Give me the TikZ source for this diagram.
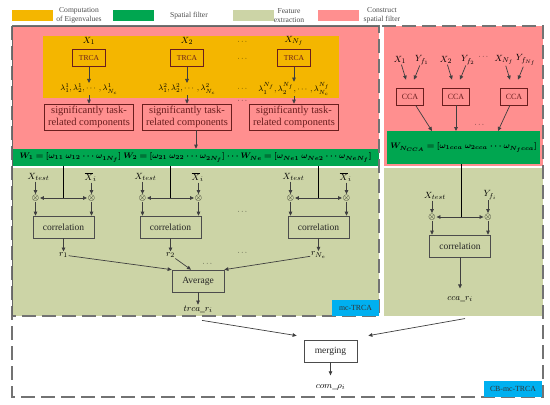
\documentclass[tikz,border=0pt]{standalone}
\usepackage{amsmath, amssymb}
\usepackage{bm}
\usepackage{fontspec}
\setmainfont{Liberation Serif}
\usetikzlibrary{arrows.meta, positioning, calc}
\definecolor{pkc}{HTML}{FF8F8F}
\definecolor{ylc}{HTML}{F4B600}
\definecolor{grc}{HTML}{00A650}
\definecolor{lgc}{HTML}{CCD4A6}
\definecolor{cyc}{HTML}{00B0F0}
\definecolor{mrc}{HTML}{6A1E1E}
\definecolor{arc}{HTML}{3F3F3F}

\begin{document}
\begin{tikzpicture}[x=1pt, y=-1pt, >={Triangle[length=4pt, width=3.6pt]},
    line width=0.7pt, font=\fontsize{9.5}{10.5}\selectfont,
    arr/.style={->, draw=arc},
    lbl/.style={inner sep=0.5pt},
    legtxt/.style={font=\fontsize{7.6}{8.6}\selectfont, text=black!70,
      align=center, inner sep=0pt},
    tbox/.style={draw=mrc, text=mrc, minimum width=33pt, minimum height=17pt,
      inner sep=0pt, font=\fontsize{7.6}{8}\selectfont},
    cbox/.style={tbox, minimum width=27pt, font=\fontsize{8}{8}\selectfont},
    pbox/.style={draw=mrc, text=mrc, minimum width=89pt, minimum height=26pt,
      inner sep=0pt, align=center, font=\fontsize{10.5}{11.5}\selectfont},
    gbox/.style={draw=black!70, text=black!85, minimum width=61pt,
      minimum height=22pt, inner sep=0pt},
    tag/.style={fill=cyc, text=black!80, inner sep=0pt,
      font=\fontsize{7.8}{8}\selectfont},
    dashbox/.style={draw=black!55, line width=1.1pt, dash pattern=on 14pt off 6pt}]
  \useasboundingbox (0,0) rectangle (550,405);

  % legend
  \foreach \c/\xa/\txt/\xt [count=\k] in {ylc/12/{Computation\\of Eigenvalues}/79,
      grc/113/{Spatial filter}/189, lgc/233/{Feature\\extraction}/289,
      pkc/318/{Construct\\spatial filter}/382}{
    \fill[\c] (\xa,10) rectangle ++(41,11);
    \node[legtxt] (leg\k) at (\xt,15.5) {\txt};
  }

  % coloured areas
  \fill[pkc] (12,26) rectangle (379,149);
  \fill[ylc] (43,36) rectangle (339,98);
  \fill[lgc] (12,168) rectangle (379,316);
  \fill[pkc] (384,26) rectangle (543,166);
  \fill[lgc] (384,168) rectangle (543,316);
  \node[fill=grc, minimum width=367pt, minimum height=17pt, inner sep=0pt,
        font=\fontsize{8.5}{9}\selectfont] (wL) at (195.5,157.5)
    {$\bm{W_1=[\omega_{11}\ \omega_{12}\ \cdots\ \omega_{1N_f}]}\
      \bm{W_2=[\omega_{21}\ \omega_{22}\ \cdots\ \omega_{2N_f}]}\ \bm{\cdots}\
      \bm{W_{Ne}=[\omega_{Ne1}\ \omega_{Ne2}\ \cdots\ \omega_{NeN_f}]}$};
  \node[fill=grc, minimum width=153pt, minimum height=33pt, inner sep=0pt,
        font=\fontsize{8.5}{9}\selectfont] (wR) at (463.5,147.5)
    {$\bm{W_{N_{CCA}}=[\omega_{1cca}\ \omega_{2cca}\ \cdots\ \omega_{N_fcca}]}$};

  % TRCA branches
  \foreach \i/\x/\s in {1/89/1, 2/187/2, 3/294/{N_f}}{
    \node[lbl] (xx\i) at (\x,41) {$X_{\s}$};
    \node[tbox] (trca\i) at (\x,58) {TRCA};
    \node[lbl, font=\fontsize{8}{8}\selectfont] (lam\i) at (\x,89)
      {$\lambda_1^{\s},\lambda_2^{\s},\cdots,\lambda_{N_c}^{\s}$};
    \node[pbox] (sig\i) at (\x,117) {significantly task-\\related components};
    \draw[arr] (trca\i) -- (lam\i);
    \draw[arr] (lam\i) -- (sig\i);
  }
  \foreach \y [count=\k] in {42,59,89,101}
    \node[lbl, font=\fontsize{7}{7}\selectfont] (dt\k) at (243,\y) {$\cdots$};
  \draw[arr] ([xshift=9pt]sig2.south) -- ([xshift=9pt]sig2.south |- wL.north);

  % feature extraction (mc-TRCA)
  \foreach \i/\x/\s in {1/63.5/1, 2/170.5/2, 3/318.5/{N_e}}{
    \coordinate (jn\i) at (\x,198);
    \node[lbl] (ma\i) at (\x-28,198) {$\otimes$};
    \node[lbl] (mb\i) at (\x+28,198) {$\otimes$};
    \node[lbl] (xt\i) at (\x-25,177) {$X_{test}$};
    \node[lbl] (xb\i) at (\x+27,177) {$\overline{X}_i$};
    \node[gbox] (cor\i) at (\x,227) {correlation};
    \node[lbl] (rr\i) at (\x,255) {$r_{\s}$};
    \draw (wL.south -| jn\i) -- (jn\i);
    \draw[arr] (jn\i) -- (ma\i);
    \draw[arr] (jn\i) -- (mb\i);
    \draw[arr] (xt\i.south -| ma\i) -- (ma\i);
    \draw[arr] (xb\i.south -| mb\i) -- (mb\i);
    \draw[arr] (ma\i) -- (ma\i |- cor\i.north);
    \draw[arr] (mb\i) -- (mb\i |- cor\i.north);
    \draw[arr] (cor\i) -- (rr\i);
  }
  \node[lbl, font=\fontsize{7}{7}\selectfont] (dt5) at (243,212) {$\cdots$};
  \node[lbl, font=\fontsize{7}{7}\selectfont] (dt6) at (243,253) {$\cdots$};
  \node[lbl, font=\fontsize{7}{7}\selectfont] (dt7) at (208,264) {$\cdots$};
  \node[gbox, minimum width=52pt] (avg) at (198,281) {Average};
  \draw[arr] (rr1) -- (avg.north west);
  \draw[arr] (rr2) -- ([xshift=-7pt]avg.north);
  \draw[arr] (rr3) -- (avg.north east);
  \node[lbl] (trca) at (198,309) {$trca\_r_i$};
  \draw[arr] (avg) -- (trca);

  % CCA branches
  \foreach \i/\x/\xs/\ys in {1/410/1/{f_1}, 2/456/2/{f_2}, 3/514/{N_f}/{f_{N_f}}}{
    \node[cbox] (cca\i) at (\x,96.5) {CCA};
    \node[lbl] (cx\i) at (\x-10,60) {$X_{\xs}$};
    \node[lbl] (cy\i) at (\x+12,60) {$Y_{\ys}$};
    \draw[arr] (cx\i) -- ([shift={(-4,-8)}]cca\i.north);
    \draw[arr] (cy\i) -- ([shift={(4,-8)}]cca\i.north);
  }
  \node[lbl, font=\fontsize{7}{7}\selectfont] (dt8) at (484,57) {$\cdots$};
  \node[lbl, font=\fontsize{7}{7}\selectfont] (dt9) at (480,125) {$\cdots$};
  \coordinate (wi1) at (432,131);
  \coordinate (wi2) at (456,131);
  \coordinate (wi3) at (498,131);
  \foreach \i in {1,2,3}
    \draw[arr] (cca\i) -- (wi\i);

  % feature extraction (CCA)
  \coordinate (jr) at (461,217);
  \node[lbl] (mc1) at (432,217) {$\otimes$};
  \node[lbl] (mc2) at (488,217) {$\otimes$};
  \node[lbl] (xtr) at (435,196) {$X_{test}$};
  \node[lbl] (yfr) at (490,195) {$Y_{f_i}$};
  \node[gbox] (corr) at (460,246) {correlation};
  \node[lbl] (ccar) at (460,299) {$cca\_r_i$};
  \draw (wR.south -| jr) -- (jr);
  \draw[arr] (jr) -- (mc1);
  \draw[arr] (jr) -- (mc2);
  \draw[arr] (xtr.south -| mc1) -- (mc1);
  \draw[arr] (yfr.south -| mc2) -- (mc2);
  \draw[arr] (mc1) -- (mc1 |- corr.north);
  \draw[arr] (mc2) -- (mc2 |- corr.north);
  \draw[arr, shorten >=7pt] (corr) -- (ccar);

  % merging
  \node[gbox, minimum width=53pt] (mrg) at (330.5,351) {merging};
  \node[lbl] (com) at (330.5,387) {$com\_\rho_i$};
  \draw[arr] ([shift={(4,7)}]trca.south) -- ([shift={(-7,-4)}]mrg.north west);
  \draw[arr] ([shift={(5,16)}]ccar.south) -- ([shift={(11,-4)}]mrg.north east);
  \draw[arr, shorten >=8pt] (mrg) -- (com);

  % frames and tags
  \draw[dashbox] (12,26) rectangle (543,397);
  \draw[dashbox] (12,26) rectangle (379,316);
  \draw[black!60, line width=1pt] (12,316) -- (12,26) -- (379,26);
  \node[tag, minimum width=47pt, minimum height=16pt] (mct) at (355.5,308) {mc-TRCA};
  \node[tag, minimum width=58pt, minimum height=16pt] (cbt) at (513,389) {CB-mc-TRCA};
\end{tikzpicture}
\end{document}
